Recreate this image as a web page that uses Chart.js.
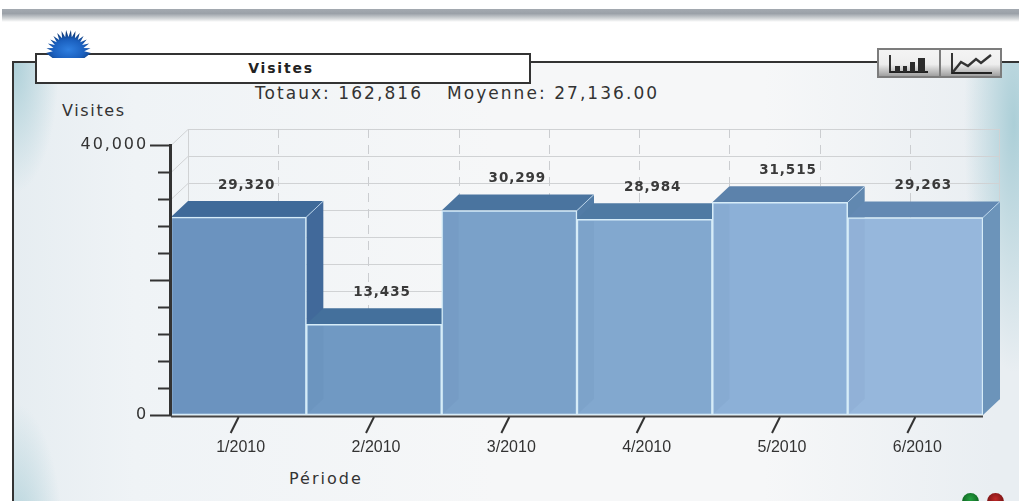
<!DOCTYPE html>
<html><head><meta charset="utf-8">
<script src="https://cdn.jsdelivr.net/npm/chart.js@4"></script>
<style>
html,body{margin:0;padding:0;background:#fff;overflow:hidden}
#page{position:relative;width:1019px;height:501px;overflow:hidden;background:#fff;font-family:"DejaVu Sans",sans-serif;color:#333}
#band{position:absolute;left:2px;right:0;top:9px;height:13px;background:linear-gradient(#a3a9b0 0%,#9ba1a8 35%,#d5d8da 75%,#fff 100%)}
#panel{position:absolute;left:12px;top:61px;width:1100px;height:500px;border:2px solid #333;box-sizing:border-box;
background:
 radial-gradient(ellipse 50px 150px at 0px 490px,rgba(168,205,214,.9),rgba(168,205,214,0) 100%),
 radial-gradient(ellipse 45px 130px at 0px 0px,rgba(168,205,214,.9),rgba(168,205,214,0) 100%),
 radial-gradient(ellipse 50px 250px at 1000px 60px,rgba(168,205,214,.95),rgba(168,205,214,0) 100%),
 linear-gradient(90deg,#e6edf1 0,#eff3f6 120px,#f6f7f8 480px,#f6f7f8 750px,#e9eef2 980px);}
#titlebox{position:absolute;left:35px;top:53px;width:496px;height:31px;box-sizing:border-box;background:#fff;border:2px solid #333}
.t{position:absolute;white-space:nowrap;line-height:20px;height:20px}
canvas{position:absolute;left:0;top:0}
#chart{position:absolute;left:0;top:0;width:1019px;height:501px}
svg{position:absolute}
.btn{position:absolute;top:48px;height:30px;box-sizing:border-box;border:2px solid #7c7c7c;background:linear-gradient(#f4f4f4 0,#eee 55%,#a0a0a0 100%)}
.led{position:absolute;width:17px;height:17px;border-radius:50%;top:493px}
</style></head>
<body>
<div id="page">
 <div id="band"></div>
 <div id="panel"></div>
 <div id="titlebox"></div>
 <svg id="sun" style="left:40px;top:26px" width="58" height="36" viewBox="0 0 58 36"></svg>
 <div class="btn" style="left:877px;width:64px"><svg style="left:9px;top:3px" width="44" height="22"><path d="M2 2V19H40" fill="none" stroke="#222" stroke-width="1.8"/><path d="M7 13h5v6H7zM15 13h4v6h-4zM22 9h5v10h-5zM30 5h7v14h-7z" fill="#2c2c2c"/></svg></div>
 <div class="btn" style="left:939px;width:63px"><svg style="left:9px;top:2px" width="46" height="24"><path d="M2 1V21H42" fill="none" stroke="#222" stroke-width="1.8"/><path d="M3 20L11 10L18 14L26 7L31 11L41 3" fill="none" stroke="#333" stroke-width="2.4"/></svg></div>
 <div class="t" style="left:281px;top:58px;transform:translateX(-50%);font-weight:bold;font-size:14px;letter-spacing:1.8px;color:#222">Visites</div>
 <div class="t" style="left:255px;top:83px;font-size:17px;letter-spacing:2.05px;color:#333">Totaux: 162,816</div>
 <div class="t" style="left:447px;top:83px;font-size:17px;letter-spacing:2.05px;color:#333">Moyenne: 27,136.00</div>
 <div class="t" style="left:62px;top:101px;font-size:16px;letter-spacing:1.65px;color:#333">Visites</div>
 <div class="t" style="left:289px;top:469px;font-size:16px;letter-spacing:2px;color:#333">Période</div>
 <div id="chart"><canvas id="c" width="1019" height="501"></canvas></div>
 <div class="led" style="left:962px;background:radial-gradient(circle at 50% 35%,#25a040,#0a5a1c 75%)"></div>
 <div class="led" style="left:987px;background:radial-gradient(circle at 50% 35%,#c02828,#6a1010 75%)"></div>
</div>
<script>
const categories = ['1/2010','2/2010','3/2010','4/2010','5/2010','6/2010'];
const visits = [29320,13435,30299,28984,31515,29263];
const valueTicks = [0,40000];
const frontColors = ['#6b93bf','#7099c3','#7aa1c9','#82a8cf','#8cb0d7','#96b7dc'];
const topColors   = ['#3f6a99','#44709c','#4a749f','#4f7aa3','#5c82ab','#6389b3'];
const sideColors  = ['#41699a','#44709c','#527ca6','#5a83ab','#6188b0','#6c94ba'];

const DX = 17, DY = 16;

// decorative sunburst
(function(){
  const svg = document.getElementById('sun'), cx = 28.5, cy = 27;
  let pts = [];
  for (let i = 0; i <= 30; i++) {
    const a = Math.PI * (1 + i/30), r = (i % 2 === 0) ? 1 : 0.7;
    pts.push((cx + Math.cos(a)*22.5*r).toFixed(1) + ',' + (cy + Math.sin(a)*23*r).toFixed(1));
  }
  svg.innerHTML = '<defs><radialGradient id="g" cx="50%" cy="70%" r="60%"><stop offset="0" stop-color="#2f7fe0"/><stop offset=".6" stop-color="#1a5fbe"/><stop offset="1" stop-color="#0e3a78"/></radialGradient></defs>'
    + '<polygon fill="url(#g)" points="' + pts.join(' ') + ' ' + (cx+16)+','+(cy+5)+' '+(cx-16)+','+(cy+5) + '"/>';
})();

const scene3d = {
  id: 'scene3d',
  beforeDraw(chart){
    const y = chart.scales.y, ctx = chart.ctx;
    if (!y._spaced) {
      y._spaced = true;
      const orig = y.drawLabels;
      y.drawLabels = function(a){ ctx.save(); ctx.letterSpacing='1.9px'; orig.call(this,a); ctx.restore(); };
    }
  },
  beforeDatasetsDraw(chart){
    const ctx = chart.ctx, x = chart.scales.x, y = chart.scales.y;
    const l = x.left, r = x.right, t = y.top, b = y.bottom;
    ctx.save();
    // back wall and its grid
    ctx.strokeStyle = '#cfcfcf'; ctx.lineWidth = 1;
    y.ticks.forEach(tk => {
      const py = Math.round(y.getPixelForValue(tk.value)) + .5;
      ctx.beginPath();
      ctx.moveTo(l, py); ctx.lineTo(l+DX, py-DY); ctx.lineTo(r+DX, py-DY);
      ctx.strokeStyle = '#d0d2d4'; ctx.stroke();
    });
    ctx.beginPath();
    ctx.moveTo(l+DX+.5, t-DY); ctx.lineTo(l+DX+.5, b-DY);
    ctx.moveTo(r+DX-.5, t-DY); ctx.lineTo(r+DX-.5, b-DY);
    ctx.stroke();
    ctx.setLineDash([9,7]); ctx.strokeStyle = '#cbcdd0';
    const step = (r-l)/9;
    for (let i = 1; i < 9; i++) {
      const px = Math.round(l+DX+step*i)+.5;
      ctx.beginPath(); ctx.moveTo(px, t-DY); ctx.lineTo(px, b-DY); ctx.stroke();
    }
    ctx.setLineDash([]);
    // 3D faces behind each library-drawn bar front
    chart.getDatasetMeta(0).data.forEach((bar,i) => {
      const x0 = bar.x-bar.width/2, x1 = bar.x+bar.width/2, yt = bar.y, yb = bar.base;
      ctx.fillStyle = sideColors[i];
      ctx.beginPath(); ctx.moveTo(x1,yt); ctx.lineTo(x1+DX,yt-DY); ctx.lineTo(x1+DX,yb-DY); ctx.lineTo(x1,yb); ctx.closePath(); ctx.fill();
      ctx.fillStyle = topColors[i];
      ctx.beginPath(); ctx.moveTo(x0,yt); ctx.lineTo(x0+DX,yt-DY); ctx.lineTo(x1+DX,yt-DY); ctx.lineTo(x1,yt); ctx.closePath(); ctx.fill();
      ctx.strokeStyle = 'rgba(205,230,248,.75)'; ctx.lineWidth = 1;
      ctx.beginPath(); ctx.moveTo(x1,yt); ctx.lineTo(x1+DX,yt-DY); ctx.stroke();
    });
    ctx.restore();
  },
  afterDatasetsDraw(chart){
    const ctx = chart.ctx, x = chart.scales.x, y = chart.scales.y;
    const meta = chart.getDatasetMeta(0).data;
    ctx.save();
    // shaded strip cast on each front by its left neighbour
    meta.forEach((bar,i) => {
      if (i === 0) return;
      const x0 = bar.x-bar.width/2+2, yt = bar.y+2, yb = bar.base-2;
      ctx.fillStyle = 'rgba(20,60,110,.04)';
      ctx.beginPath(); ctx.moveTo(x0,yt); ctx.lineTo(x0+DX-2,yt); ctx.lineTo(x0+DX-2,yb-DY+2); ctx.lineTo(x0,yb); ctx.closePath(); ctx.fill();
    });
    // axis lines and tick marks
    ctx.strokeStyle = '#333'; ctx.lineCap = 'butt';
    ctx.lineWidth = 3;
    ctx.beginPath(); ctx.moveTo(x.left-.5, y.top-1); ctx.lineTo(x.left-.5, y.bottom+1); ctx.stroke();
    ctx.lineWidth = 2;
    y.ticks.forEach(tk => {
      const py = Math.round(y.getPixelForValue(tk.value)) + .5;
      const major = tk.value % 20000 === 0;
      ctx.beginPath(); ctx.moveTo(x.left, py); ctx.lineTo(x.left-(major?21:13), py); ctx.stroke();
    });
    ctx.strokeStyle = '#444';
    ctx.beginPath(); ctx.moveTo(x.left, y.bottom+1.5); ctx.lineTo(x.right, y.bottom+1.5); ctx.stroke();
    ctx.strokeStyle = '#333';
    categories.forEach((c,i) => {
      const px = x.getPixelForValue(i);
      ctx.beginPath(); ctx.moveTo(px, y.bottom+2); ctx.lineTo(px-8, y.bottom+18); ctx.stroke();
    });
    // value labels
    ctx.font = 'bold 13.5px "DejaVu Sans"';
    ctx.letterSpacing = '0.9px';
    ctx.textAlign = 'center'; ctx.textBaseline = 'middle';
    ctx.fillStyle = '#3a3a3a';
    meta.forEach((bar,i) => {
      ctx.fillText(visits[i].toLocaleString('en-US'), bar.x+8, bar.y-32);
    });
    ctx.restore();
  }
};

new Chart(document.getElementById('c'), {
  type: 'bar',
  data: { labels: categories, datasets: [{
    label: 'Visites', data: visits,
    backgroundColor: frontColors, borderColor: '#d6ecf8', borderWidth: 1.5, borderSkipped: false,
    barPercentage: 1, categoryPercentage: 1
  }]},
  plugins: [scene3d],
  options: {
    responsive: false, animation: false, events: [],
    layout: { padding: { top: 145, right: 36, left: 0, bottom: 0 } },
    plugins: { legend: { display: false }, tooltip: { enabled: false }, title: { display: false } },
    scales: {
      x: {
        type: 'category', offset: true,
        grid: { display: false }, border: { display: false },
        afterFit(s){ s.height = 86; },
        ticks: { padding: 15, labelOffset: 2, maxRotation: 0, autoSkip: false, color: '#333', font: { family: '"Liberation Sans"', size: 16 } }
      },
      y: {
        min: 0, max: 40000,
        grid: { display: false }, border: { display: false },
        afterFit(s){ s.width = 171; },
        ticks: { stepSize: 4000, padding: 15, autoSkip: false, color: '#333', font: { family: '"DejaVu Sans"', size: 16 },
          callback(v){ return valueTicks.includes(v) ? v.toLocaleString('en-US') : ''; } }
      }
    }
  }
});
</script>
</body></html>
